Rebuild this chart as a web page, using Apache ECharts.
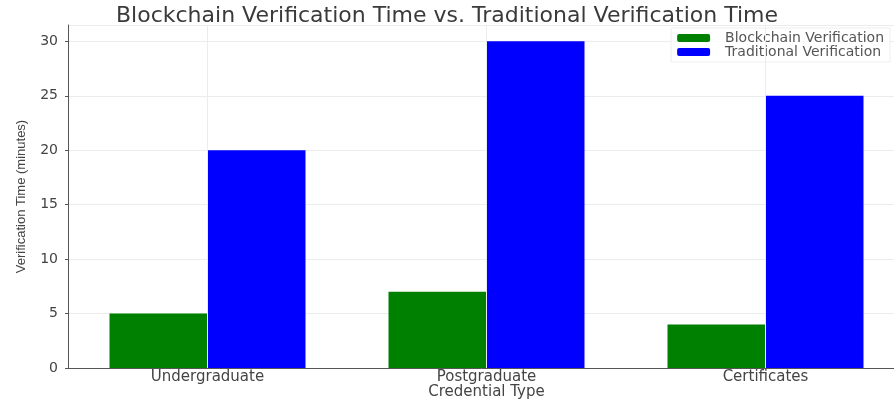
<!DOCTYPE html>
<html>
<head>
<meta charset="utf-8">
<script src="https://cdn.jsdelivr.net/npm/echarts@6/dist/echarts.min.js"></script>
<style>
  html, body { margin: 0; padding: 0; background: #fff; }
  #main { width: 894px; height: 402px; }
</style>
</head>
<body>
<div id="main"></div>
<script>
var categories = ['Undergraduate', 'Postgraduate', 'Certificates'];
var blockchainTimes = [5, 7, 4];
var traditionalTimes = [20, 30, 25];
var seriesNames = ['Blockchain Verification', 'Traditional Verification'];

var font = 'DejaVu Sans, sans-serif';

var chart = echarts.init(document.getElementById('main'));

chart.setOption({
    backgroundColor: '#fff',
    animation: false,
    title: {
        text: 'Blockchain Verification Time vs. Traditional Verification Time',
        left: 'center',
        top: 0,
        textStyle: { fontFamily: font, fontSize: 22, fontWeight: 'normal', color: '#3a3a3a' }
    },
    legend: {
        data: seriesNames,
        orient: 'vertical',
        right: 4,
        top: 28,
        itemWidth: 33,
        itemHeight: 8,
        itemGap: 0,
        padding: [3, 6],
        borderColor: '#eee',
        borderWidth: 1,
        backgroundColor: 'rgba(255,255,255,0.8)',
        textStyle: { fontFamily: font, fontSize: 14, lineHeight: 13, color: '#555', padding: [0, 0, 0, 10] }
    },
    grid: {
        left: 68,
        right: -11,
        top: 25,
        bottom: 34,
        containLabel: false,
        outerBoundsMode: 'none'
    },
    xAxis: {
        type: 'category',
        data: categories,
        name: 'Credential Type',
        nameLocation: 'middle',
        nameGap: 17,
        nameMoveOverlap: false,
        nameTextStyle: { fontFamily: font, fontSize: 15, color: '#444', verticalAlign: 'top' },
        axisLine: { lineStyle: { color: '#555', width: 1 } },
        axisTick: { show: false },
        axisLabel: { fontFamily: font, fontSize: 15, color: '#444', margin: 2 },
        splitLine: { show: false }
    },
    yAxis: {
        type: 'value',
        min: 0,
        max: 31.5,
        interval: 5,
        name: 'Verification Time (minutes)',
        nameLocation: 'middle',
        nameGap: 40,
        nameTextStyle: { fontFamily: 'Liberation Sans Narrow, Liberation Sans, sans-serif', fontSize: 13, color: '#444' },
        axisLine: { show: true, lineStyle: { color: '#555', width: 1 } },
        axisTick: { show: true, length: 3, lineStyle: { color: '#555' } },
        axisLabel: { fontFamily: font, fontSize: 14, color: '#444', margin: 10, showMaxLabel: false },
        splitLine: { lineStyle: { color: '#ececec', width: 1 } }
    },
    series: [
        {
            type: 'line',
            data: [],
            z: 1,
            silent: true,
            markLine: {
                silent: true,
                symbol: 'none',
                label: { show: false },
                lineStyle: { color: '#ececec', width: 1, type: 'solid' },
                data: categories.map(function (c) { return { xAxis: c }; })
            }
        },
        {
            name: seriesNames[0],
            type: 'bar',
            data: blockchainTimes,
            barWidth: 98,
            barGap: '0%',
            itemStyle: { color: '#008000' }
        },
        {
            name: seriesNames[1],
            type: 'bar',
            data: traditionalTimes,
            barWidth: 98,
            barGap: '0%',
            itemStyle: { color: '#0000ff' }
        }
    ]
});
</script>
</body>
</html>
